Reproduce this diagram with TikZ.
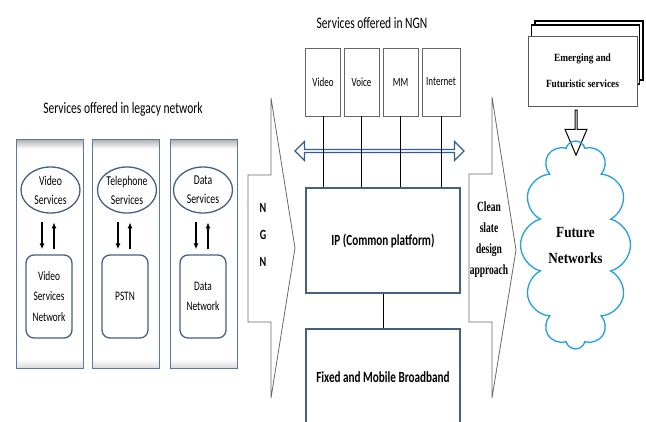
\documentclass[tikz,border=0pt]{standalone}
\usepackage{fontspec}
\setmainfont{Liberation Serif}
\newfontfamily\condsans[FakeStretch=0.72]{Carlito}
\newfontfamily\condserif[FakeStretch=0.85]{Liberation Serif}
\newfontfamily\narrowserif[FakeStretch=0.68]{Liberation Serif}
\usetikzlibrary{shapes.geometric,shapes.symbols,shapes.arrows,arrows.meta}

\definecolor{colblue}{RGB}{88,120,168}
\definecolor{ipblue}{RGB}{70,96,132}
\definecolor{busblue}{RGB}{52,92,148}
\definecolor{cloudblue}{RGB}{30,160,226}
\definecolor{shapegray}{RGB}{105,105,105}

\tikzset{
  legacycol/.style={fill=white, minimum width=66pt, minimum height=228pt, inner sep=0pt},
  legacysvc/.style={ellipse, draw=ipblue, line width=1.3pt, minimum width=59pt, minimum height=46pt, inner sep=0pt, align=center, font=\condsans\fontsize{13.5}{19}\selectfont},
  legacynet/.style={draw=ipblue, line width=1.3pt, rounded corners=8pt, minimum width=46pt, minimum height=83pt, inner sep=0pt, align=center, font=\condsans\fontsize{13}{20.5}\selectfont},
  updown/.style={line width=1.4pt, -{Latex[length=6pt,width=5pt]}},
  ngnsvc/.style={draw=gray!80!black, line width=0.9pt, minimum height=68pt, inner sep=0pt, font=\condsans\fontsize{12.5}{14}\selectfont},
  layerbox/.style={draw=ipblue, line width=1.2pt, fill=white, minimum width=154pt, inner sep=0pt, font=\condsans\bfseries\fontsize{15.5}{17}\selectfont},
  bigarrow/.style={draw=shapegray, line width=0.8pt, fill=white},
  serifbold/.style={align=center, font=\narrowserif\bfseries\fontsize{14}{21}\selectfont},
}

\begin{document}
\begin{tikzpicture}[x=1pt, y=-1pt]
  \useasboundingbox (0,0) rectangle (646,421);
  \clip (0,0) rectangle (646,421);

  % legacy networks
  \node[font=\condsans\fontsize{16}{18}\selectfont] (legtitle) at (123,109) {Services offered in legacy network};
  \foreach \i/\cx/\sx/\nx/\st/\nt in {1/50/50.5/49/{Video\\Services}/{Video\\Services\\Network},
      2/126/127/125/{Telephone\\Services}/{PSTN},
      3/204/203/203/{Data\\Services}/{Data\\Network}} {
    \node[legacycol] (col\i) at (\cx,254) {};
    \shade[top color=gray!60, bottom color=white] (col\i.north west) rectangle ([yshift=-9pt]col\i.north east);
    \shade[top color=white, bottom color=gray!30] ([yshift=9pt]col\i.south west) rectangle (col\i.south east);
    \draw[colblue, line width=1.2pt] (col\i.north west) rectangle (col\i.south east);
    \node[legacysvc] (svc\i) at (\sx,190) {\st};
    \node[legacynet] (net\i) at (\nx,296.5) {\nt};
    \draw[updown] ([xshift=-7pt,yshift=32pt]net\i.north) -- ([xshift=-7pt,yshift=5pt]net\i.north);
    \draw[updown] ([xshift=5pt,yshift=5pt]net\i.north) -- ([xshift=5pt,yshift=32pt]net\i.north);
  }

  % NGN
  \draw[bigarrow] (271,98) -- (295,248) -- (271,398) -- (271,322) -- (248,322) -- (248,175) -- (271,175) -- cycle;
  \node[align=center, font=\condsans\bfseries\fontsize{14}{27}\selectfont] (ngnlabel) at (263,235) {N\\G\\N};

  \node[font=\condsans\fontsize{16}{18}\selectfont] (ngntitle) at (372,23) {Services offered in NGN};
  \foreach \i/\x/\w/\t in {1/323/35/Video, 2/361.5/35/Voice, 3/400.5/35/MM, 4/441/38/Internet}
    \node[ngnsvc, minimum width=\w pt] (ngn\i) at (\x,82) {\t};
  \node[layerbox, minimum height=105pt] (ip) at (383,240.5) {IP (Common platform)};
  \node[layerbox, minimum height=96pt] (bb) at (383,377) {Fixed and Mobile Broadband};
  \node[double arrow, draw=busblue, line width=1.3pt, minimum height=169pt, minimum width=19pt,
        double arrow head extend=3.5pt, inner sep=0pt] (bus) at (379.5,151) {};
  \foreach \i in {1,...,4}
    \draw[line width=0.9pt] (ngn\i.south) -- (ngn\i.south |- ip.north);
  \draw[line width=0.9pt] (ip.south) -- (bb.north);

  % future networks
  \draw[bigarrow] (492,97) -- (516,250) -- (492,398) -- (492,322) -- (469,322) -- (469,174) -- (492,174) -- cycle;
  \node[serifbold] (clean) at (489,240) {Clean\\slate\\design\\approach};

  \node[draw, line width=1.6pt, fill=white, minimum width=108pt, minimum height=59pt] (sheetb) at (589,50.5) {};
  \node[draw, line width=1.6pt, fill=white, minimum width=108pt, minimum height=59pt] (sheeta) at (585.5,54.5) {};
  \node[draw=gray!70!black, line width=1pt, fill=white, minimum width=109pt, minimum height=70pt,
        align=center, font=\condserif\bfseries\fontsize{11}{26}\selectfont] (emerg) at (582.5,71) {Emerging and\\Futuristic services};
  \node[single arrow, shape border rotate=270, draw, line width=1pt, fill=white, minimum height=45pt, minimum width=22pt,
        single arrow head extend=5pt, single arrow tip angle=46, inner sep=0pt] (down) at (576,131.5) {};
  \node[cloud, cloud puffs=12, cloud ignores aspect, draw=cloudblue, line width=1.3pt, minimum width=110pt, minimum height=208pt,
        align=center, font=\condserif\bfseries\fontsize{15.5}{26}\selectfont] (future) at (575.5,245) {Future\\Networks};
\end{tikzpicture}
\end{document}
